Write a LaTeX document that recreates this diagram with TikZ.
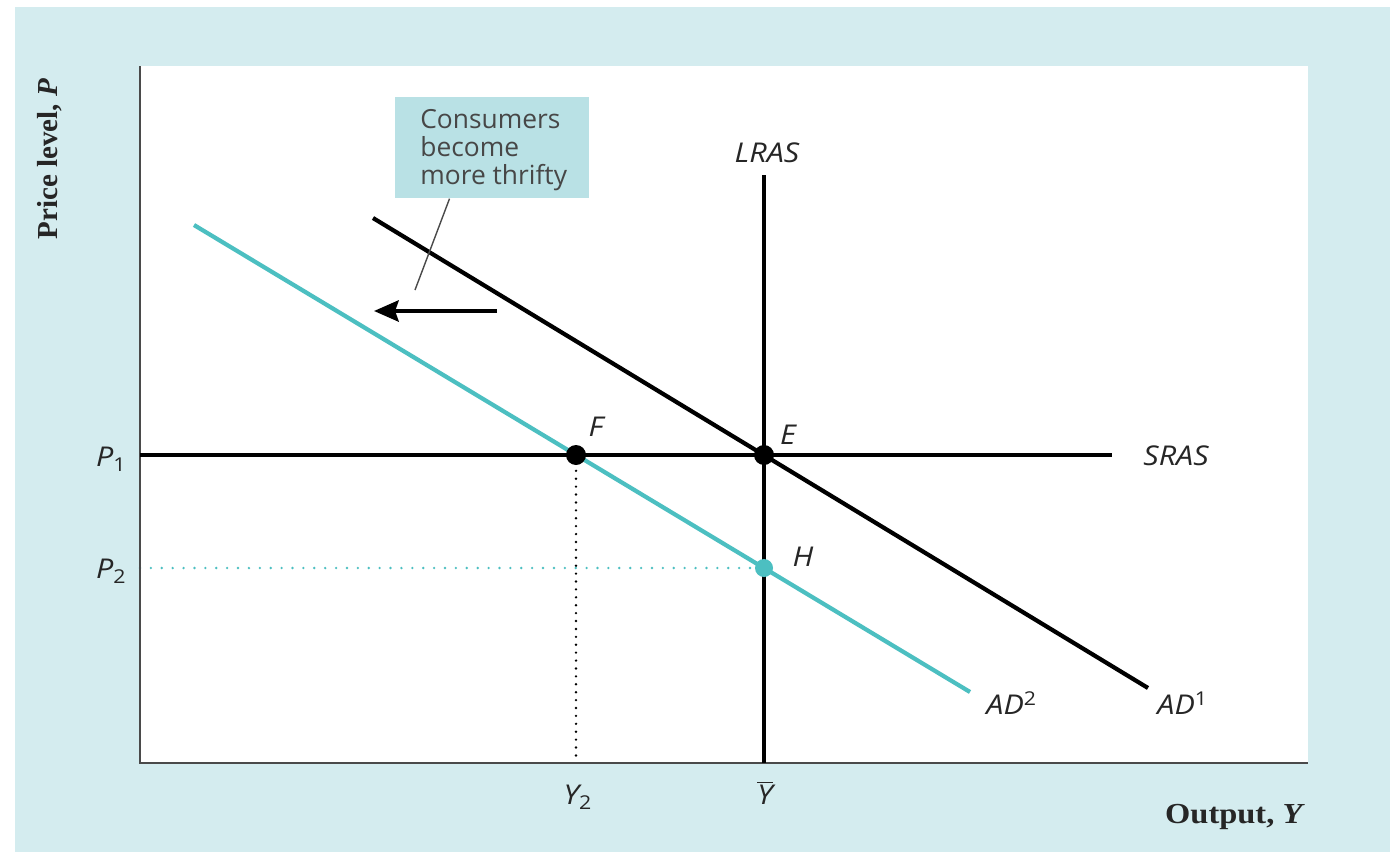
\documentclass[tikz,border=0pt]{standalone}
\usepackage{fontspec}
\setmainfont{Liberation Serif}
\newfontfamily\labfont{Open Sans}
\usetikzlibrary{arrows.meta,calc}
\definecolor{bgblue}{HTML}{D4ECEF}
\definecolor{boxblue}{HTML}{B9E1E5}
\definecolor{tealc}{HTML}{4CBFC1}
\definecolor{axisgray}{HTML}{4A4A4A}
\definecolor{txt}{HTML}{262626}
\begin{document}
\begin{tikzpicture}[x=0.02cm,y=-0.02cm,
  curve/.style={line width=2.4pt},
  axisline/.style={axisgray,line width=1.2pt},
  lbl/.style={font=\labfont\itshape\fontsize{15.5}{18}\selectfont,text=txt,inner sep=0pt,xscale=1.12},
  title/.style={font=\fontsize{16.5}{20}\selectfont\bfseries,text=txt,inner sep=0pt},
  blackdots/.style={line width=1.5pt,line cap=round,dash pattern=on 0pt off 4.5pt},
  tealdots/.style={tealc,line width=1.5pt,line cap=round,dash pattern=on 0pt off 6.2pt},
  eqdot/.style={circle,fill=#1,inner sep=0pt,minimum size=0.4cm}
]
\useasboundingbox (0,0) rectangle (1395,852);
\fill[white] (0,0) rectangle (1395,852);
\fill[bgblue] (15,7) rectangle (1390,852);
\fill[white] (140,66) rectangle (1308,763);

% coordinates
\coordinate (O) at (140,763);
\coordinate (Ytop) at (140,66);
\coordinate (Xend) at (1308,763);
\coordinate (S0) at (140,455);
\coordinate (S1) at (1112,455);
\coordinate (L0) at (764,175);
\coordinate (L1) at (764,763);
\coordinate (A1s) at (373,218);
\coordinate (A1e) at (1148,688);
\coordinate (A2s) at (194,225);
\coordinate (A2e) at (970,692);
\coordinate (Fx) at (576,763);
\coordinate (P2y) at (140,568);
\coordinate (arrS) at (497,311);
\coordinate (arrE) at (374,311);
\coordinate (lead1) at (415,290);

% dotted guides
\draw[blackdots] (576,455) -- (Fx);
\draw[tealdots] (P2y) -- (764,568);

% axes
\draw[axisline] (Ytop) -- (O) -- (Xend);

% curves
\draw[curve] (S0) -- (S1);
\draw[curve] (L0) -- (L1);
\draw[curve] (A1s) -- (A1e);
\draw[curve,tealc] (A2s) -- (A2e);

% points
\node[eqdot=black] (E) at (764,455) {};
\node[eqdot=black] (F) at (576,455) {};
\node[eqdot=tealc,minimum size=0.36cm] (H) at (764,568) {};

% arrow
\draw[line width=2.4pt,-{Stealth[length=14pt,width=12pt,inset=2pt]}] (arrS) -- (arrE);

% box
\node[fill=boxblue,anchor=north west,minimum width=3.88cm,minimum height=2.02cm,inner sep=0pt] (box) at (395,97) {};
\node[anchor=west,align=left,inner sep=0pt,text=txt!85!white,font=\labfont\fontsize{15}{16}\selectfont] (boxtext) at ($(box.west)+(25,2)$) {Consumers\\become\\more thrifty};
\draw[axisgray,line width=0.8pt] ($(box.south west)!0.28!(box.south east)$) -- (lead1);

% labels
\node[lbl] (lLRAS) at (767,153) {LRAS};
\node[lbl] (lSRAS) at (1176,456) {SRAS};
\node[lbl] (lE) at (788,435) {E};
\node[lbl] (lF) at (596,427) {F};
\node[lbl] (lH) at (803,557) {H};
\node[lbl,anchor=west] (lAD2) at (986,703) {AD\textsuperscript{\upshape 2}};
\node[lbl,anchor=west] (lAD1) at (1157,703) {AD\textsuperscript{\upshape 1}};
\node[lbl,anchor=east] (lP1) at (127,459) {P\textsubscript{\upshape 1}};
\node[lbl,anchor=east] (lP2) at (127,571) {P\textsubscript{\upshape 2}};
\node[lbl] (lY2) at (578,797) {Y\textsubscript{\upshape 2}};
\node[lbl] (lYbar) at (765,793) {$\overline{\mbox{\labfont\itshape Y}}$};

% axis titles
\node[title,rotate=90] (ptitle) at (50,159) {Price level, \textit{P}};
\node[title,xscale=1.12] (otitle) at (1235,817) {Output, \textit{Y}};
\end{tikzpicture}
\end{document}
